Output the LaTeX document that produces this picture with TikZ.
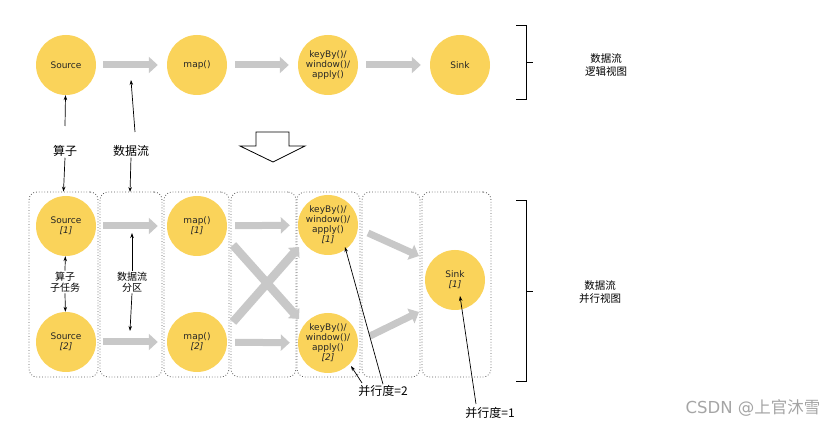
\documentclass[tikz,border=0pt]{standalone}
\usepackage{fontspec}
\setmainfont{DejaVu Sans}
\newfontfamily\cjk{Noto Sans CJK SC}
\usetikzlibrary{arrows.meta}
\definecolor{yel}{RGB}{250,211,90}
\definecolor{garr}{RGB}{200,200,200}
\definecolor{boxc}{RGB}{90,90,90}
\definecolor{wm}{RGB}{165,165,165}
\begin{document}
\begin{tikzpicture}[x=1pt,y=-1pt,
  op/.style={circle,fill=yel,minimum size=60pt,inner sep=0pt,align=center,
    font=\fontsize{9}{10}\selectfont,text=black!85},
  flow/.style={line width=7pt,draw=garr,-{Triangle[length=9pt,width=16pt]}},
  part/.style={draw=boxc,dotted,rounded corners=8pt,line width=0.8pt,
    minimum height=185pt,inner sep=0pt},
  lbl/.style={font=\cjk\fontsize{12}{14}\selectfont,inner sep=1pt},
  slbl/.style={font=\cjk\fontsize{10}{11}\selectfont,align=center,inner sep=1pt},
  rlbl/.style={font=\cjk\fontsize{10.5}{13}\selectfont,align=center},
  ptr/.style={-{Stealth[length=5pt,width=3.5pt]},line width=0.7pt},
  brc/.style={line width=1pt}]
\useasboundingbox (0,0) rectangle (836,427);

% ---------- logical view ----------
\node[op] (src) at (66,65) {Source};
\node[op] (map) at (197,65) {map()};
\node[op] (key) at (328,65) {keyBy()/\\window()/\\apply()};
\node[op] (sink) at (460,65) {Sink};
\draw[flow,shorten <=7pt,shorten >=9pt] (src) -- (map);
\draw[flow,shorten <=8pt,shorten >=9pt] (map) -- (key);
\draw[flow,shorten <=8pt,shorten >=9pt] (key) -- (sink);

% bracket top
\coordinate (tb1) at (516,26);
\coordinate (tb2) at (526,26);
\coordinate (tb3) at (526,100);
\coordinate (tb4) at (516,100);
\coordinate (tbm) at (526,63);
\coordinate (tbt) at (533,63);
\draw[brc] (tb1) -- (tb2) -- (tb3) -- (tb4);
\draw[brc] (tbm) -- (tbt);
\node[rlbl] (logic) at (606,65) {数据流\\逻辑视图};

% labels between views
\node[lbl] (opl) at (65,151) {算子};
\node[lbl] (dfl) at (131,151) {数据流};
\coordinate (ops) at (65,126);
\draw[ptr] (ops) -- (src);
\coordinate (dfs) at (135,132);
\coordinate (dfa) at (131,80);
\draw[ptr] (dfs) -- (dfa);

% hollow arrow
\coordinate (h1) at (256,132);
\coordinate (h2) at (289,132);
\coordinate (h3) at (289,146);
\coordinate (h4) at (305,146);
\coordinate (h5) at (273,162);
\coordinate (h6) at (240,146);
\coordinate (h7) at (256,146);
\draw[line width=0.8pt,fill=white] (h1) -- (h2) -- (h3) -- (h4) -- (h5) -- (h6) -- (h7) -- cycle;

% ---------- parallel view ----------
\node[part,minimum width=69pt] (b1) at (63.5,284.5) {};
\node[part,minimum width=62pt] (b2) at (131,284.5) {};
\node[part,minimum width=65pt] (b3) at (196.5,284.5) {};
\node[part,minimum width=65pt] (b4) at (263.5,284.5) {};
\node[part,minimum width=63pt] (b5) at (328.5,284.5) {};
\node[part,minimum width=58pt] (b6) at (391,284.5) {};
\node[part,minimum width=69pt] (b7) at (456.5,284.5) {};

\draw[ptr] (opl.south) -- (b1.north);
\coordinate (dfb) at (130,192);
\draw[ptr] (dfl.south) -- (dfb);

% cross arrows (behind circles)
\coordinate (xa) at (233,245);
\coordinate (xb) at (299,319);
\coordinate (xc) at (233,322);
\coordinate (xd) at (299,247);
\draw[line width=8.5pt,draw=garr,-{Triangle[length=8pt,width=15pt]}] (xa) -- (xb);
\draw[line width=8.5pt,draw=garr,-{Triangle[length=8pt,width=15pt]}] (xc) -- (xd);

\node[op] (s1) at (66,226) {Source\\\textit{[1]}};
\node[op] (s2) at (66,342) {Source\\\textit{[2]}};
\node[op] (m1) at (197,226) {map()\\\textit{[1]}};
\node[op] (m2) at (197,342) {map()\\\textit{[2]}};
\node[op] (k1) at (328,225) {keyBy()/\\window()/\\apply()\\\textit{[1]}};
\node[op] (k2) at (328,343) {keyBy()/\\window()/\\apply()\\\textit{[2]}};
\node[op] (sk) at (455,280) {Sink\\\textit{[1]}};

\draw[flow,shorten <=7pt,shorten >=9pt] (s1) -- (m1);
\draw[flow,shorten <=7pt,shorten >=9pt] (s2) -- (m2);
\draw[flow,shorten <=8pt,shorten >=8pt] (m1) -- (k1);
\draw[flow,shorten <=8pt,shorten >=8pt] (m2) -- (k2);
\coordinate (y1) at (368,233);
\coordinate (y2) at (419,256);
\coordinate (y3) at (370,336);
\coordinate (y4) at (419,312);
\draw[flow] (y1) -- (y2);
\draw[flow] (y3) -- (y4);

% subtask / partition labels
\node[slbl] (subt) at (65,282) {算子\\子任务};
\draw[ptr] (subt.north) -- (s1);
\draw[ptr] (subt.south) -- (s2);
\node[slbl] (part) at (132,282) {数据流\\分区};
\coordinate (pa) at (132,233);
\coordinate (pb) at (130,331);
\draw[ptr] (part.north) -- (pa);
\draw[ptr] (part.south) -- (pb);

% parallelism labels
\node[lbl] (p2) at (383,391) {并行度=2};
\coordinate (p2a) at (345,247);
\coordinate (p2b) at (351,366);
\draw[ptr] (p2.north) -- (p2a);
\coordinate (p2s) at (362,383);
\draw[ptr] (p2s) -- (p2b);
\node[lbl] (p1) at (490,413) {并行度=1};
\coordinate (p1a) at (460,296);
\coordinate (p1s) at (476,404);
\draw[ptr] (p1s) -- (p1a);

% bracket bottom
\coordinate (bb1) at (516,201);
\coordinate (bb2) at (526,201);
\coordinate (bb3) at (526,382);
\coordinate (bb4) at (516,382);
\coordinate (bbm) at (526,292);
\coordinate (bbt) at (533,292);
\draw[brc] (bb1) -- (bb2) -- (bb3) -- (bb4);
\draw[brc] (bbm) -- (bbt);
\node[rlbl] (para) at (600,292) {数据流\\并行视图};

% watermark
\node[font=\fontsize{16.5}{18}\selectfont,text=wm] (wmk) at (753,408) {CSDN @{\cjk 上官沐雪}};
\end{tikzpicture}
\end{document}
